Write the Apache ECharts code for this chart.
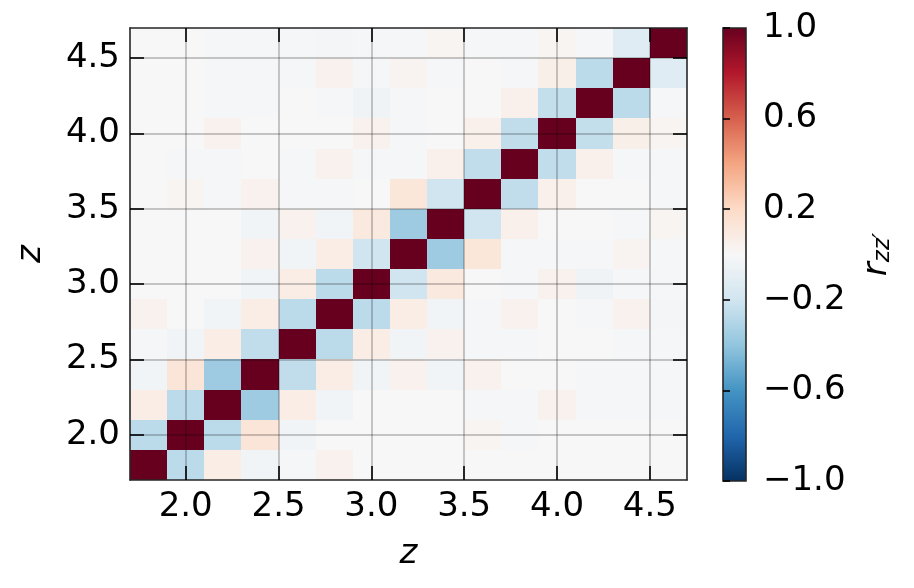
<!DOCTYPE html>
<html><head><meta charset="utf-8">
<script src="https://cdn.jsdelivr.net/npm/echarts@6/dist/echarts.min.js"></script>
<style>html,body{margin:0;padding:0;background:#fff}#c{width:914px;height:588px}</style>
</head><body><div id="c"></div>
<script>
// ---- data ----
const zBins = [1.8, 2.0, 2.2, 2.4, 2.6, 2.8, 3.0, 3.2, 3.4, 3.6, 3.8, 4.0, 4.2, 4.4, 4.6];
const binWidth = 0.2;
const zRange = [1.7, 4.7];
const zTicks = [2.0, 2.5, 3.0, 3.5, 4.0, 4.5];
const cbarRange = [-1, 1];
const cbarTicks = [-1.0, -0.6, -0.2, 0.2, 0.6, 1.0];
// upper triangle of the correlation matrix: corrUpper[i][k] = r(z_i, z_{i+1+k})
const corrUpper = [
  [-0.27, 0.07, -0.03, -0.01, 0.04, 0.00, 0.00, 0.00, 0.00, 0.00, 0.00, 0.00, 0.00, 0.00],
  [-0.27, 0.13, -0.03, 0.00, 0.00, 0.00, 0.00, 0.02, -0.01, 0.00, 0.00, 0.00, 0.00],
  [-0.36, 0.07, -0.03, 0.00, 0.00, 0.00, -0.01, -0.01, 0.04, -0.01, -0.01, -0.01],
  [-0.25, 0.07, -0.03, 0.04, -0.03, 0.04, 0.00, 0.00, -0.01, -0.01, -0.01],
  [-0.27, 0.07, -0.03, 0.04, -0.01, -0.01, 0.00, 0.00, -0.01, -0.01],
  [-0.27, 0.07, -0.03, -0.01, 0.04, 0.00, -0.01, 0.04, -0.02],
  [-0.20, 0.10, 0.00, -0.01, 0.04, -0.04, -0.01, -0.01],
  [-0.36, 0.12, -0.01, -0.01, -0.01, 0.03, -0.01],
  [-0.20, 0.05, 0.00, 0.00, -0.01, 0.02],
  [-0.25, 0.05, 0.00, 0.00, -0.01],
  [-0.25, 0.05, -0.01, -0.01],
  [-0.24, 0.06, 0.02],
  [-0.27, -0.01],
  [-0.12]
];

// ---- styles ----
const rdbuR = ['#053061','#2166ac','#4393c3','#92c5de','#d1e5f0','#f7f7f7','#fddbc7','#f4a582','#d6604d','#b2182b','#67001f'];
const FONT = 'DejaVu Sans';
const FS = 34;
const spine = {show: true, lineStyle: {color: '#262626', width: 1.6}};
const tickIn = {show: true, inside: true, length: 14, lineStyle: {color: '#000', width: 1.6}, customValues: zTicks};

const n = zBins.length;
const cells = [];
for (let i = 0; i < n; i++) {
  for (let j = 0; j < n; j++) {
    const r = i === j ? 1 : (i < j ? corrUpper[i][j - i - 1] : corrUpper[j][i - j - 1]);
    cells.push([zBins[j], zBins[i], r]);
  }
}
const fmt1 = v => (v < 0 ? '\u2212' : '') + Math.abs(v).toFixed(1);

const chart = echarts.init(document.getElementById('c'), null, {renderer: 'canvas'});
chart.setOption({
  animation: false,
  backgroundColor: '#fff',
  grid: [
    {left: 130, top: 28, width: 557, height: 452},
    {left: 723, top: 28, width: 23, height: 453}
  ],
  visualMap: {type: 'continuous', show: false, min: cbarRange[0], max: cbarRange[1], dimension: 2, seriesIndex: 0, inRange: {color: rdbuR}},
  xAxis: [
    {type: 'value', gridIndex: 0, position: 'bottom', min: zRange[0], max: zRange[1], z: 5,
     axisLine: spine, axisTick: tickIn,
     axisLabel: {customValues: zTicks, formatter: fmt1, fontFamily: FONT, fontSize: FS, color: '#000', margin: 10},
     splitLine: {show: true, lineStyle: {color: 'rgba(0,0,0,0.28)', width: 1.5}},
     name: 'z', nameLocation: 'middle', nameGap: 57,
     nameTextStyle: {fontFamily: FONT, fontSize: FS, fontStyle: 'italic', color: '#000'}},
    {type: 'value', gridIndex: 0, position: 'top', min: zRange[0], max: zRange[1], z: 5,
     axisLine: spine, axisTick: tickIn, axisLabel: {show: false}, splitLine: {show: false}},
    {type: 'value', gridIndex: 1, min: 0, max: 1, show: false}
  ],
  yAxis: [
    {type: 'value', gridIndex: 0, position: 'left', min: zRange[0], max: zRange[1], z: 5,
     axisLine: spine, axisTick: tickIn,
     axisLabel: {customValues: zTicks, formatter: fmt1, fontFamily: FONT, fontSize: FS, color: '#000', margin: 10},
     splitLine: {show: true, lineStyle: {color: 'rgba(0,0,0,0.28)', width: 1.5}},
     name: 'z', nameLocation: 'middle', nameGap: 82, nameRotate: 90,
     nameTextStyle: {fontFamily: FONT, fontSize: FS, fontStyle: 'italic', color: '#000'}},
    {type: 'value', gridIndex: 0, position: 'right', min: zRange[0], max: zRange[1], z: 5,
     axisLine: spine, axisTick: tickIn, axisLabel: {show: false}, splitLine: {show: false}},
    {type: 'value', gridIndex: 1, position: 'right', min: cbarRange[0], max: cbarRange[1], z: 5,
     axisLine: {show: false},
     axisTick: {show: true, inside: false, length: 7, lineStyle: {color: '#000', width: 1.6}, customValues: cbarTicks},
     axisLabel: {customValues: cbarTicks, formatter: fmt1, fontFamily: FONT, fontSize: FS, color: '#000', margin: 17},
     splitLine: {show: false},
     name: '{r|r}{s|zz\u2032}', nameLocation: 'middle', nameGap: 113, nameRotate: 90,
     nameTextStyle: {rich: {
       r: {fontFamily: FONT, fontSize: FS, fontStyle: 'italic', color: '#000', lineHeight: 36},
       s: {fontFamily: FONT, fontSize: 23, fontStyle: 'italic', color: '#000', lineHeight: 23, verticalAlign: 'bottom'}
     }}}
  ],
  series: [
    {type: 'custom', xAxisIndex: 0, yAxisIndex: 0, data: cells, clip: true, z: 2,
     encode: {x: 0, y: 1},
     renderItem: function (params, api) {
       const x = api.value(0), y = api.value(1);
       const p0 = api.coord([x - binWidth / 2, y + binWidth / 2]);
       const p1 = api.coord([x + binWidth / 2, y - binWidth / 2]);
       const x0 = Math.round(p0[0]), y0 = Math.round(p0[1]);
       const x1 = Math.round(p1[0]), y1 = Math.round(p1[1]);
       return {type: 'rect', shape: {x: x0, y: y0, width: x1 - x0, height: y1 - y0},
               style: {fill: api.visual('color')}};
     }},
    {type: 'custom', xAxisIndex: 2, yAxisIndex: 2, data: [[0, cbarRange[0], 1, cbarRange[1]]], z: 2,
     renderItem: function (params, api) {
       const p0 = api.coord([api.value(0), api.value(3)]);
       const p1 = api.coord([api.value(2), api.value(1)]);
       const stops = rdbuR.map((c, k) => ({offset: k / (rdbuR.length - 1), color: c}));
       return {type: 'rect', shape: {x: p0[0], y: p0[1], width: p1[0] - p0[0], height: p1[1] - p0[1]},
               style: {fill: new echarts.graphic.LinearGradient(0, 1, 0, 0, stops), stroke: '#262626', lineWidth: 1.6}};
     }}
  ]
});
</script>
</body></html>
